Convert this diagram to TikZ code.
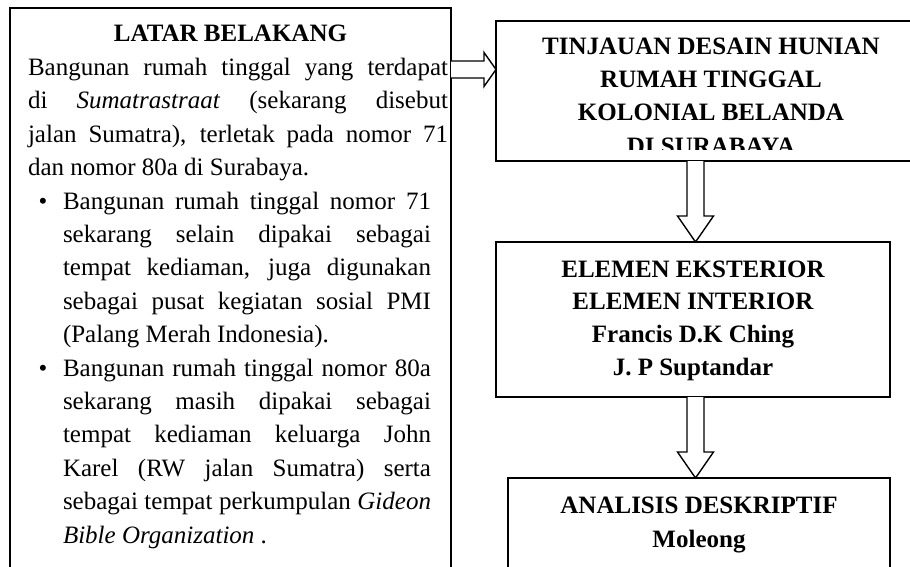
\documentclass[tikz,border=0pt]{standalone}
\usepackage{fontspec}
\setmainfont{Liberation Serif}
\usetikzlibrary{calc}
\newcommand{\jline}[2]{\makebox[#1][s]{#2}}
\tikzset{
  box/.style={draw, line width=0.9pt, inner sep=0pt, outer sep=0pt, anchor=north west},
  txt/.style={inner sep=0pt, outer sep=0pt, font=\fontsize{12.5}{16.7}\selectfont},
  hd/.style={inner sep=0pt, outer sep=0pt, font=\fontsize{12.5}{16.7}\selectfont\bfseries, anchor=base},
  jl/.style={txt, anchor=base west},
  bul/.style={txt, anchor=base},
  blockarrow/.style={draw, line width=0.7pt, fill=white, line join=miter},
}
\begin{document}
\begin{tikzpicture}[x=0.5pt,y=-0.5pt]
\clip (0,0) rectangle (910,567);
\fill[white] (0,0) rectangle (910,567);

% boxes
\node[box, minimum width=220.5pt, minimum height=300pt] (lb) at (10,8) {};
\node[box, minimum width=215pt, minimum height=70pt] (b1) at (496,21) {};
\node[box, minimum width=197pt, minimum height=77.5pt] (b2) at (496,242) {};
\node[box, minimum width=191pt, minimum height=60pt] (b3) at (508,478) {};

% left box text
\node[hd] (lbh) at (230.5,42) {LATAR BELAKANG};
\node[jl] (p1) at (28,75.4) {\jline{210pt}{Bangunan rumah tinggal yang terdapat}};
\node[jl] (p2) at (28,108.8) {\jline{210pt}{di \textit{Sumatrastraat} (sekarang disebut}};
\node[jl] (p3) at (28,142.2) {\jline{210pt}{jalan Sumatra), terletak pada nomor 71}};
\node[jl] (p4) at (28,175.6) {dan nomor 80a di Surabaya.};

\node[bul] (k1) at (43,209) {\textbullet};
\node[jl] (q1) at (63,209) {\jline{184pt}{Bangunan rumah tinggal nomor 71}};
\node[jl] (q2) at (63,242.4) {\jline{184pt}{sekarang selain dipakai sebagai}};
\node[jl] (q3) at (63,275.8) {\jline{184pt}{tempat kediaman, juga digunakan}};
\node[jl] (q4) at (63,309.2) {\jline{184pt}{sebagai pusat kegiatan sosial PMI}};
\node[jl] (q5) at (63,342.6) {(Palang Merah Indonesia).};

\node[bul] (k2) at (43,376) {\textbullet};
\node[jl] (r1) at (63,376) {\jline{184pt}{Bangunan rumah tinggal nomor 80a}};
\node[jl] (r2) at (63,409.4) {\jline{184pt}{sekarang masih dipakai sebagai}};
\node[jl] (r3) at (63,442.8) {\jline{184pt}{tempat kediaman keluarga John}};
\node[jl] (r4) at (63,476.2) {\jline{184pt}{Karel (RW jalan Sumatra) serta}};
\node[jl] (r5) at (63,509.6) {\jline{184pt}{sebagai tempat perkumpulan \textit{Gideon}}};
\node[jl] (r6) at (63,543) {\textit{Bible Organization} .};

% box 1 text (clipped inside)
\begin{scope}
\clip (496,21) rectangle (926,150);
\node[hd] (t1) at (711,54.3) {TINJAUAN DESAIN HUNIAN};
\node[hd] (t2) at (711,87.6) {RUMAH TINGGAL};
\node[hd] (t3) at (711,120.9) {KOLONIAL BELANDA};
\node[hd] (t4) at (711,154.2) {DI SURABAYA};
\end{scope}

% box 2 text
\node[hd] (e1) at (693,277) {ELEMEN EKSTERIOR};
\node[hd] (e2) at (693,309.8) {ELEMEN INTERIOR};
\node[hd] (e3) at (693,342.6) {Francis D.K Ching};
\node[hd] (e4) at (693,375.4) {J. P Suptandar};

% box 3 text
\node[hd] (a1) at (699,513) {ANALISIS DESKRIPTIF};
\node[hd] (a2) at (699,547) {Moleong};

% block arrows
\coordinate (ra0) at (lb.east |- 0,69.5);
\coordinate (ra1) at (b1.west |- 0,69.5);
\draw[blockarrow] ($(ra0)+(0,-8.5)$) -- ($(ra1)+(-12,-8.5)$) -- ($(ra1)+(-12,-17)$) -- (ra1)
  -- ($(ra1)+(-12,17)$) -- ($(ra1)+(-12,8.5)$) -- ($(ra0)+(0,8.5)$);

\coordinate (d1s) at (695.5,0 |- b1.south);
\coordinate (d1e) at (695.5,0 |- b2.north);
\draw[blockarrow] ($(d1s)+(-8.5,0)$) -- ($(d1e)+(-8.5,-26)$) -- ($(d1e)+(-18,-26)$) -- (d1e)
  -- ($(d1e)+(18,-26)$) -- ($(d1e)+(8.5,-26)$) -- ($(d1s)+(8.5,0)$);

\coordinate (d2s) at (695.5,0 |- b2.south);
\coordinate (d2e) at (695.5,0 |- b3.north);
\draw[blockarrow] ($(d2s)+(-8.5,0)$) -- ($(d2e)+(-8.5,-26)$) -- ($(d2e)+(-18,-26)$) -- (d2e)
  -- ($(d2e)+(18,-26)$) -- ($(d2e)+(8.5,-26)$) -- ($(d2s)+(8.5,0)$);
\end{tikzpicture}
\end{document}
